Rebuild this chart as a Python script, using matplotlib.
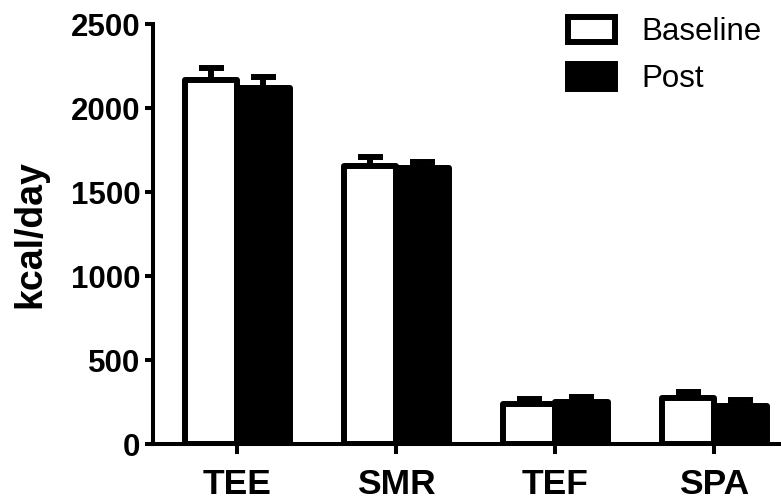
import numpy as np
import matplotlib.pyplot as plt
from matplotlib.patches import Patch

plt.rcParams['font.family'] = ['Liberation Sans', 'DejaVu Sans']

# Energy expenditure components (kcal/day), mean and SEM
components = ["TEE", "SMR", "TEF", "SPA"]
baseline = [2168, 1656, 240, 272]
baseline_err = [70, 56, 31, 36]
post = [2123, 1643, 252, 228]
post_err = [61, 35, 27, 34]

lw = 4.3
width = 0.33
x = np.arange(len(components))

fig = plt.figure(figsize=(7.81, 5.04), dpi=100)
ax = fig.add_axes([0.196, 0.119, 0.804, 0.833])

# one-sided (upper) error bars, drawn under the bars
ax.errorbar(x - width / 2, baseline, yerr=[np.zeros(4), baseline_err], fmt='none',
            ecolor='black', elinewidth=lw, capsize=9, capthick=lw, zorder=2)
ax.errorbar(x + width / 2, post, yerr=[np.zeros(4), post_err], fmt='none',
            ecolor='black', elinewidth=lw, capsize=9, capthick=lw, zorder=2)

b1 = ax.bar(x - width / 2, baseline, width, color='white', edgecolor='black',
            linewidth=lw, zorder=3)
b2 = ax.bar(x + width / 2, post, width, color='black', edgecolor='black',
            linewidth=lw, zorder=3)
for p in list(b1) + list(b2):
    p.set_joinstyle('round')

ax.set_xlim(-0.528, 3.42)
ax.set_ylim(0, 2500)
ax.set_yticks([0, 500, 1000, 1500, 2000, 2500])
ax.set_xticks(x)
ax.set_xticklabels(components, fontsize=25.5, fontweight='bold')
for lab in ax.get_yticklabels():
    lab.set_fontsize(22.5)
    lab.set_fontweight('bold')
ax.set_ylabel("kcal/day", fontsize=27, fontweight='bold', labelpad=16)

for side in ['top', 'right']:
    ax.spines[side].set_visible(False)
for side in ['left', 'bottom']:
    ax.spines[side].set_linewidth(2.9)
    ax.spines[side].set_capstyle('projecting')
ax.tick_params(axis='y', length=6, width=2.9, pad=3)
ax.tick_params(axis='x', length=7, width=2.9, pad=10)

handles = [Patch(facecolor='white', edgecolor='black', linewidth=lw, joinstyle='round'),
           Patch(facecolor='black', edgecolor='black', linewidth=lw, joinstyle='round')]
fig.legend(handles, ["Baseline", "Post"], loc='upper left',
           bbox_to_anchor=(0.727, 0.967), frameon=False, fontsize=22.5,
           handlelength=1.52, handleheight=0.85, handletextpad=0.85,
           labelspacing=0.55, borderpad=0, borderaxespad=0)

fig.savefig("out.png", dpi=100)
